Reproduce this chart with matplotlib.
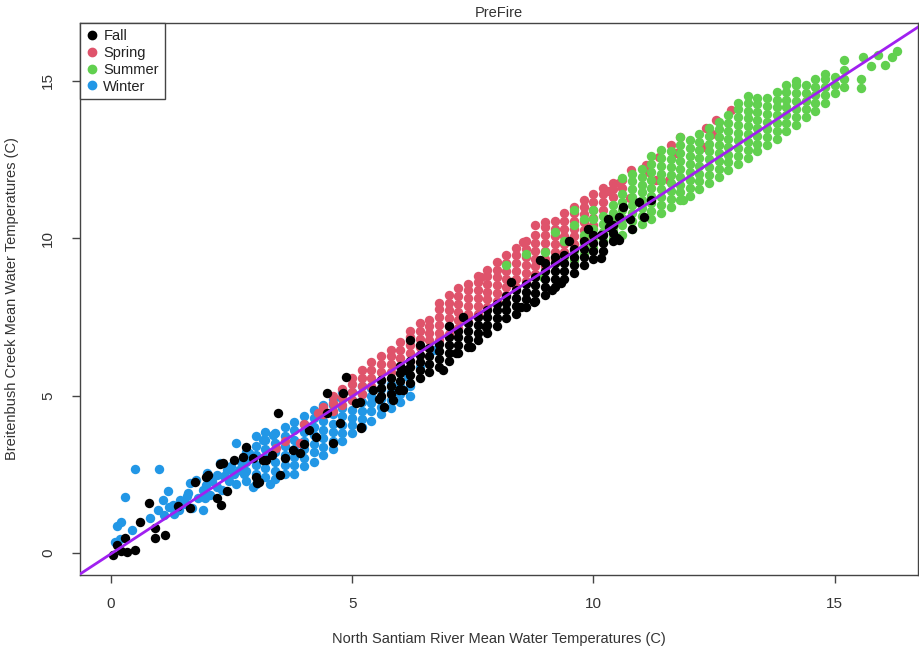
import matplotlib
matplotlib.use("Agg")
import matplotlib.pyplot as plt
from matplotlib.lines import Line2D

plt.rcParams['font.family'] = ['Liberation Sans', 'DejaVu Sans']

# season colours (R 4 default palette)
season_names = ["Fall", "Spring", "Summer", "Winter"]
season_colors = ["#000000", "#DF536B", "#61D04F", "#2297E6"]

# fitted line (North Santiam vs Breitenbush)
fit_intercept = -0.03
fit_slope = 1.0

# --- Winter: dense columns (x, [y...]) plus scattered points ---
winter_cols = [
    (2.8, [2.3, 2.6, 2.9, 3.2]),
    (3.0, [2.2, 2.5, 2.8, 3.1, 3.4, 3.7]),
    (3.2, [2.4, 2.7, 3.0, 3.3, 3.6, 3.85]),
    (3.4, [2.35, 2.6, 2.9, 3.2, 3.5, 3.8]),
    (3.6, [2.5, 2.8, 3.1, 3.4, 3.7, 4.0]),
    (3.8, [2.5, 2.8, 3.05, 3.3, 3.6, 3.9, 4.15]),
    (4.0, [2.75, 3.0, 3.3, 3.55, 3.85, 4.1, 4.35]),
    (4.2, [2.9, 3.2, 3.45, 3.75, 4.0, 4.3, 4.55]),
    (4.4, [3.1, 3.35, 3.65, 3.9, 4.2, 4.5, 4.7]),
    (4.6, [3.3, 3.55, 3.85, 4.1, 4.4, 4.7, 4.9]),
    (4.8, [3.55, 3.8, 4.05, 4.35, 4.6, 4.9, 5.1]),
    (5.0, [3.8, 4.05, 4.3, 4.55, 4.85, 5.1]),
    (5.2, [4.0, 4.25, 4.5, 4.8, 5.05, 5.3]),
    (5.4, [4.2, 4.5, 4.75, 5.0, 5.25]),
    (5.6, [4.4, 4.65, 4.9, 5.2, 5.45]),
    (5.8, [4.6, 4.85, 5.1, 5.35]),
    (6.0, [4.8, 5.05, 5.3]),
    (6.2, [5.0, 5.3]),
]
winter_pts = [
    (0.08, 0.36), (0.12, 0.86), (0.18, 0.45), (0.20, 0.99), (0.29, 1.77),
    (0.43, 0.73), (0.50, 2.67), (1.00, 2.67), (0.81, 1.10), (0.97, 1.37),
    (1.08, 1.68), (1.19, 1.98), (1.29, 1.52), (1.30, 1.25), (1.41, 1.37),
    (1.43, 1.68), (1.50, 1.55), (1.57, 1.80), (1.60, 1.90), (1.64, 2.21),
    (1.68, 1.43), (1.77, 2.32), (1.80, 1.75), (1.90, 1.37), (1.90, 2.00),
    (1.98, 2.16), (2.05, 1.85), (2.10, 2.30), (2.19, 2.48), (2.26, 2.85),
    (2.30, 2.00), (2.40, 2.64), (2.45, 2.30), (2.50, 2.75), (2.60, 3.48),
    (2.60, 2.20), (2.70, 2.90), (2.75, 2.50), (2.87, 3.17), (2.94, 2.10),
    (3.15, 3.60), (3.29, 2.20), (3.36, 3.76), (6.15, 5.60), (6.40, 5.90),
    (6.70, 6.45), (2.20, 2.10), (2.35, 2.45), (2.55, 2.50), (2.65, 2.65),
    (1.95, 1.75), (2.00, 2.55), (1.55, 1.55), (1.20, 1.45), (1.10, 1.20),
]

# --- Spring ---
spring_cols = [
    (4.4, [4.4, 4.65]),
    (4.6, [4.5, 4.75, 5.0]),
    (4.8, [4.7, 4.95, 5.2]),
    (5.0, [4.85, 5.1, 5.35, 5.55]),
    (5.2, [5.05, 5.3, 5.55, 5.8]),
    (5.4, [5.3, 5.55, 5.8, 6.05]),
    (5.6, [5.5, 5.75, 6.0, 6.25]),
    (5.8, [5.75, 6.0, 6.25, 6.45]),
    (6.0, [5.95, 6.2, 6.45, 6.7]),
    (6.2, [6.1, 6.35, 6.6, 6.85, 7.05]),
    (6.4, [6.3, 6.55, 6.8, 7.05, 7.3]),
    (6.6, [6.5, 6.75, 7.0, 7.2, 7.4]),
    (6.8, [6.75, 7.0, 7.25, 7.5, 7.75, 7.95]),
    (7.0, [6.95, 7.2, 7.45, 7.7, 7.95, 8.2]),
    (7.2, [7.15, 7.4, 7.65, 7.9, 8.15, 8.4]),
    (7.4, [7.35, 7.6, 7.85, 8.1, 8.35, 8.55]),
    (7.6, [7.6, 7.85, 8.1, 8.35, 8.6, 8.8]),
    (7.8, [7.8, 8.05, 8.3, 8.55, 8.8, 9.0]),
    (8.0, [8.0, 8.25, 8.5, 8.75, 9.0, 9.25]),
    (8.2, [8.2, 8.45, 8.7, 8.95, 9.2, 9.45]),
    (8.4, [8.45, 8.7, 8.95, 9.2, 9.45, 9.7]),
    (8.6, [8.65, 8.9, 9.15, 9.4, 9.65, 9.9]),
    (8.8, [8.85, 9.1, 9.35, 9.6, 9.85, 10.1, 10.4]),
    (9.0, [9.1, 9.35, 9.6, 9.85, 10.1, 10.35, 10.5]),
    (9.2, [9.3, 9.55, 9.8, 10.05, 10.3, 10.55]),
    (9.4, [9.55, 9.8, 10.05, 10.3, 10.55, 10.8]),
    (9.6, [9.8, 10.05, 10.3, 10.55, 10.8, 11.0]),
    (9.8, [10.0, 10.25, 10.5, 10.75, 11.0, 11.2]),
    (10.0, [10.4, 10.65, 10.9, 11.15, 11.4]),
    (10.2, [10.9, 11.15, 11.4, 11.6]),
    (10.4, [11.3, 11.55, 11.75]),
    (10.6, [11.6, 11.85]),
]
spring_pts = [
    (3.43, 3.32), (3.60, 3.55), (3.91, 3.49), (4.00, 4.10), (4.30, 4.45),
    (7.67, 8.77), (8.54, 9.88), (10.33, 11.48), (10.54, 11.74), (10.75, 11.26),
    (10.78, 12.16), (11.09, 12.32), (11.16, 12.11), (11.30, 11.84), (11.37, 12.58),
    (11.57, 11.84), (11.60, 12.96), (11.71, 12.69), (11.80, 13.20), (12.27, 12.90),
    (12.33, 13.48), (12.47, 13.30), (12.54, 13.75), (12.85, 14.06),
]

# --- Summer ---
summer_cols = [
    (9.6, [9.3, 9.6, 10.4, 10.9]),
    (9.8, [9.5, 9.8, 10.1, 10.6]),
    (10.0, [9.7, 10.0, 10.3, 10.6, 10.9]),
    (10.2, [9.9, 10.2, 10.45, 10.7]),
    (10.4, [10.0, 10.3, 10.55, 10.8, 11.05]),
    (10.6, [10.1, 10.4, 10.65, 10.9, 11.15, 11.4, 11.9]),
    (10.8, [10.3, 10.55, 10.8, 11.05, 11.3, 11.55, 11.8, 12.05]),
    (11.0, [10.45, 10.7, 10.95, 11.2, 11.45, 11.7, 11.95, 12.2]),
    (11.2, [10.6, 10.85, 11.1, 11.35, 11.6, 11.85, 12.1, 12.35, 12.6]),
    (11.4, [10.8, 11.05, 11.3, 11.55, 11.8, 12.05, 12.3, 12.55, 12.8]),
    (11.6, [11.0, 11.25, 11.5, 11.75, 12.0, 12.25, 12.5, 12.75]),
    (11.8, [11.2, 11.45, 11.7, 11.95, 12.2, 12.45, 12.7, 12.95, 13.2]),
    (12.0, [11.35, 11.6, 11.85, 12.1, 12.35, 12.6, 12.85, 13.1]),
    (12.2, [11.55, 11.8, 12.05, 12.3, 12.55, 12.8, 13.05, 13.3]),
    (12.4, [11.75, 12.0, 12.25, 12.5, 12.75, 13.0, 13.25, 13.5]),
    (12.6, [11.95, 12.2, 12.45, 12.7, 12.95, 13.2, 13.45, 13.7]),
    (12.8, [12.15, 12.4, 12.65, 12.9, 13.15, 13.4, 13.65, 13.9]),
    (13.0, [12.35, 12.6, 12.85, 13.1, 13.35, 13.6, 13.85, 14.1, 14.3]),
    (13.2, [12.55, 12.8, 13.05, 13.3, 13.55, 13.8, 14.05, 14.3, 14.5]),
    (13.4, [12.75, 13.0, 13.25, 13.5, 13.75, 14.0, 14.25, 14.45]),
    (13.6, [12.95, 13.2, 13.45, 13.7, 13.95, 14.2, 14.45]),
    (13.8, [13.15, 13.4, 13.65, 13.9, 14.15, 14.4, 14.65]),
    (14.0, [13.4, 13.65, 13.9, 14.15, 14.4, 14.65, 14.85]),
    (14.2, [13.6, 13.85, 14.1, 14.35, 14.6, 14.85, 15.0]),
    (14.4, [13.85, 14.1, 14.35, 14.6, 14.85]),
    (14.6, [14.05, 14.3, 14.55, 14.8, 15.05]),
    (14.8, [14.3, 14.55, 14.8, 15.05, 15.2]),
    (15.0, [14.6, 14.85, 15.1]),
    (15.2, [14.8, 15.05, 15.35, 15.65]),
]
summer_pts = [
    (8.19, 9.14), (8.60, 9.50), (8.95, 8.75), (9.00, 9.55), (9.20, 9.20),
    (9.20, 10.20), (9.40, 9.40), (9.40, 9.90), (11.85, 11.20), (15.54, 14.75),
    (15.54, 15.05), (15.60, 15.75), (15.75, 15.45), (15.90, 15.80), (16.05, 15.50),
    (16.20, 15.76), (16.30, 15.95),
]

# --- Fall ---
fall_cols = [
    (5.6, [5.0, 5.25, 5.5]),
    (5.8, [5.05, 5.3, 5.55]),
    (6.0, [5.2, 5.45, 5.7, 5.95]),
    (6.2, [5.4, 5.65, 5.9, 6.1]),
    (6.4, [5.55, 5.8, 6.05, 6.3]),
    (6.6, [5.75, 6.0, 6.25, 6.5]),
    (6.8, [5.9, 6.15, 6.4, 6.65]),
    (7.0, [6.1, 6.35, 6.6, 6.85]),
    (7.2, [6.35, 6.6, 6.85, 7.05]),
    (7.4, [6.55, 6.8, 7.05, 7.3]),
    (7.6, [6.75, 7.0, 7.25, 7.5]),
    (7.8, [7.0, 7.25, 7.5, 7.7]),
    (8.0, [7.2, 7.45, 7.7, 7.9]),
    (8.2, [7.45, 7.7, 7.95, 8.15]),
    (8.4, [7.6, 7.85, 8.1, 8.35]),
    (8.6, [7.8, 8.05, 8.3, 8.55]),
    (8.8, [8.0, 8.25, 8.5, 8.75]),
    (9.0, [8.2, 8.45, 8.7, 8.95, 9.2]),
    (9.2, [8.45, 8.7, 8.95, 9.2, 9.4]),
    (9.4, [8.7, 8.95, 9.2, 9.45]),
    (9.6, [8.9, 9.15, 9.4, 9.65]),
    (9.8, [9.15, 9.4, 9.65, 9.9]),
    (10.0, [9.35, 9.6, 9.85, 10.1]),
    (10.2, [9.6, 9.85, 10.1]),
    (10.4, [9.9, 10.15, 10.4]),
]
fall_pts = [
    (0.05, -0.06), (0.12, 0.25), (0.20, 0.05), (0.29, 0.46), (0.33, 0.04),
    (0.50, 0.10), (0.60, 0.99), (0.79, 1.58), (0.91, 0.80), (0.91, 0.47),
    (1.12, 0.57), (1.64, 1.43), (1.74, 2.26), (1.98, 2.42), (2.02, 2.48),
    (2.19, 1.75), (2.26, 2.84), (2.29, 1.52), (2.33, 2.85), (2.40, 1.96),
    (2.74, 3.06), (2.81, 3.37), (2.94, 3.00), (3.01, 2.40), (3.03, 2.23),
    (3.08, 2.26), (3.15, 2.95), (3.22, 2.95), (3.47, 4.43), (3.50, 2.49),
    (3.78, 3.27), (3.91, 3.16), (4.26, 3.68), (4.47, 4.43), (4.47, 5.07),
    (4.60, 3.48), (4.74, 4.12), (4.81, 5.07), (4.88, 5.60), (5.09, 4.75),
    (5.16, 4.80), (5.19, 4.01), (5.19, 3.96), (5.43, 5.17), (5.67, 4.64),
    (5.85, 4.86), (5.98, 5.18), (6.05, 5.17), (6.12, 5.81), (6.19, 6.76),
    (6.40, 6.60), (6.88, 5.81), (7.00, 7.20), (7.16, 6.34), (7.30, 7.50),
    (7.47, 6.55), (7.78, 7.18), (8.30, 8.60), (8.50, 7.82), (8.78, 7.98),
    (8.90, 9.30), (9.15, 8.35), (9.33, 8.56), (9.50, 9.90), (9.90, 10.30),
    (10.16, 9.36), (10.16, 10.10), (10.30, 10.60), (10.33, 10.35), (10.50, 9.99),
    (10.54, 9.94), (10.54, 10.68), (10.61, 10.99), (10.75, 10.60), (10.80, 10.30),
    (10.95, 11.15), (11.06, 10.68), (11.20, 11.20), (3.60, 3.00), (4.10, 3.90),
    (4.00, 3.45), (3.35, 3.10), (2.55, 2.95), (1.40, 1.50), (5.55, 4.90),
]

x_ticks = [0, 5, 10, 15]
y_ticks = [0, 5, 10, 15]


def flatten(cols, pts):
    xs, ys = [], []
    for x, col in cols:
        for y in col:
            xs.append(x)
            ys.append(y)
    for x, y in pts:
        xs.append(x)
        ys.append(y)
    return xs, ys


fig = plt.figure(figsize=(9.19, 6.67), dpi=100)
ax = fig.add_axes([80 / 919, 1 - 575 / 667, 838 / 919, 552 / 667])

# draw order: winter, spring, summer, fall
layers = [
    (winter_cols, winter_pts, season_colors[3]),
    (spring_cols, spring_pts, season_colors[1]),
    (summer_cols, summer_pts, season_colors[2]),
    (fall_cols, fall_pts, season_colors[0]),
]
for cols, pts, col in layers:
    xs, ys = flatten(cols, pts)
    ax.scatter(xs, ys, s=46, c=col, linewidths=0, zorder=2)

ax.axline((0, fit_intercept), slope=fit_slope, color="#A020F0", lw=2.0, zorder=3)

ax.set_xlim(-0.64, 16.73)
ax.set_ylim(-0.70, 16.83)
ax.set_xticks(x_ticks)
ax.set_yticks(y_ticks)
ax.tick_params(direction="out", length=6, width=1, color="#444444",
               labelsize=11, labelcolor="#333333")
ax.tick_params(axis="x", pad=10)
ax.tick_params(axis="y", pad=12)
for lab in ax.get_yticklabels():
    lab.set_rotation(90)
    lab.set_va("center")
for sp in ax.spines.values():
    sp.set_color("#444444")
    sp.set_linewidth(1)

ax.set_title("PreFire", fontsize=10.5, color="#333333", pad=4)
ax.set_xlabel("North Santiam River Mean Water Temperatures (C)", fontsize=10.5,
              color="#333333", labelpad=15)
ax.set_ylabel("Breitenbush Creek Mean Water Temperatures (C)", fontsize=10.5,
              color="#333333", labelpad=16)

handles = [Line2D([], [], marker="o", ls="", color=c, markersize=6)
           for c in season_colors]
leg = ax.legend(handles, season_names, loc="upper left", bbox_to_anchor=(0, 1),
                borderaxespad=0, fancybox=False, framealpha=1, edgecolor="#444444",
                fontsize=10.5, handlelength=0.8, handletextpad=0.4,
                labelspacing=0.2, borderpad=0.4)
leg.get_frame().set_linewidth(1)
for t in leg.get_texts():
    t.set_color("#222222")

fig.savefig("out.png", dpi=100)
